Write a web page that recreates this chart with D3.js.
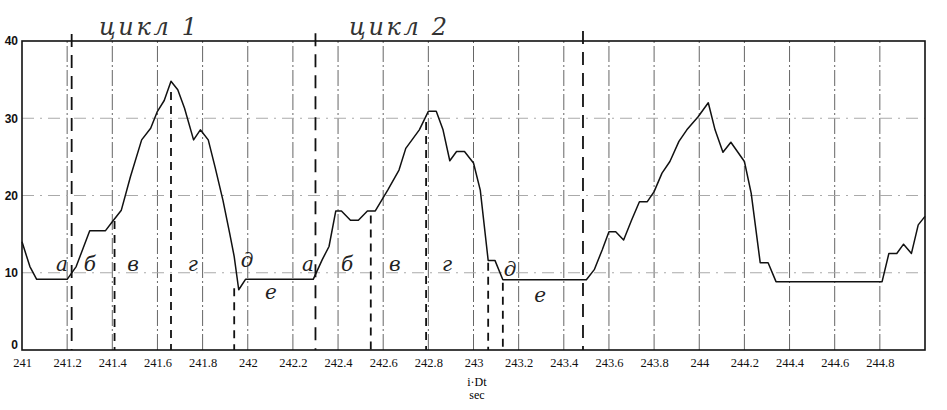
<!DOCTYPE html>
<html>
<head>
<meta charset="utf-8">
<script src="https://cdn.jsdelivr.net/npm/d3@7"></script>
<style>
  body { margin: 0; background: #fff; }
  svg { display: block; }
</style>
</head>
<body>
<div id="chart"></div>
<script>
// time (sec) and signal values
const times = [241.0, 241.035, 241.065, 241.2, 241.24, 241.30, 241.37, 241.40, 241.44, 241.48,
    241.53, 241.57, 241.60, 241.63, 241.66, 241.69, 241.72, 241.76, 241.79, 241.825,
    241.855, 241.89, 241.92, 241.94, 241.96, 241.99, 242.29, 242.33, 242.36, 242.39,
    242.415, 242.455, 242.49, 242.53, 242.565, 242.62, 242.67, 242.70, 242.76, 242.80,
    242.835, 242.865, 242.895, 242.925, 242.96, 243.0, 243.03, 243.065, 243.095, 243.13,
    243.50, 243.535, 243.57, 243.60, 243.63, 243.665, 243.70, 243.735, 243.77, 243.80,
    243.835, 243.87, 243.91, 243.945, 243.995, 244.04, 244.07, 244.105, 244.14, 244.20,
    244.23, 244.27, 244.305, 244.34, 244.81, 244.84, 244.875, 244.905, 244.94, 244.97,
    245.0];
const values = [14.0, 10.8, 9.15, 9.15, 10.8, 15.45, 15.45, 16.6, 18.1, 22.4,
    27.2, 28.7, 30.9, 32.3, 34.8, 33.7, 31.3, 27.2, 28.5, 27.2,
    23.7, 19.4, 15.1, 12.1, 7.8, 9.15, 9.15, 11.7, 13.4, 18.0,
    18.0, 16.8, 16.8, 18.0, 18.0, 20.7, 23.3, 26.1, 28.5, 30.9,
    30.9, 28.5, 24.5, 25.7, 25.7, 24.2, 20.7, 11.6, 11.6, 9.1,
    9.1, 10.4, 12.95, 15.3, 15.3, 14.25, 16.8, 19.2, 19.2, 20.5,
    22.9, 24.4, 27.0, 28.5, 30.2, 32.0, 28.5, 25.6, 26.9, 24.4,
    20.3, 11.3, 11.3, 8.85, 8.85, 12.5, 12.5, 13.7, 12.5, 16.2,
    17.3];

const xTicks = [241, 241.2, 241.4, 241.6, 241.8, 242, 242.2, 242.4, 242.6, 242.8,
    243, 243.2, 243.4, 243.6, 243.8, 244, 244.2, 244.4, 244.6, 244.8];
const yTicks = [0, 10, 20, 30, 40];

// hand-drawn markers: cycle boundaries and phase boundaries (time, top value)
const cycleTimes = [241.22, 242.30, 243.485];
const cycleTops = [40.9, 41.0, 41.3];
const phaseTimes = [241.41, 241.66, 241.94, 242.545, 242.79, 243.065, 243.13];
const phaseTops = [16.7, 33.4, 8.0, 17.4, 29.5, 11.3, 8.7];

const phaseLetters = ["а", "б", "в", "г", "д", "е", "а", "б", "в", "г", "д", "е"];
const letterTimes = [241.177, 241.301, 241.492, 241.757, 241.997, 242.103,
    242.267, 242.44, 242.652, 242.883, 243.162, 243.295];
const letterValues = [10.2, 10.2, 10.2, 10.2, 10.8, 6.6, 10.2, 10.2, 10.2, 10.2, 9.6, 6.2];

const cycleTitles = ["цикл 1", "цикл 2"];
const titleTimes = [241.558, 242.666];

const W = 947, H = 410;
const margin = { top: 41, right: 22, bottom: 60, left: 22 };

const svg = d3.select("#chart").append("svg").attr("width", W).attr("height", H);
const x = d3.scaleLinear().domain([241, 245]).range([margin.left, W - margin.right]);
const y = d3.scaleLinear().domain([0, 40]).range([H - margin.bottom, margin.top]);

// grid
svg.append("g").selectAll("line").data(xTicks.slice(1)).join("line")
    .attr("x1", d => x(d)).attr("x2", d => x(d)).attr("y1", y(0)).attr("y2", y(40))
    .attr("stroke", "#666").attr("stroke-width", 1).attr("stroke-dasharray", "16,3,2,3");
svg.append("g").selectAll("line").data(yTicks.slice(1, -1)).join("line")
    .attr("x1", x(241)).attr("x2", x(245)).attr("y1", d => y(d)).attr("y2", d => y(d))
    .attr("stroke", "#aaa").attr("stroke-width", 1).attr("stroke-dasharray", "12,6,2,6");

// frame
svg.append("rect").attr("x", x(241)).attr("y", y(40))
    .attr("width", x(245) - x(241)).attr("height", y(0) - y(40))
    .attr("fill", "none").attr("stroke", "#111").attr("stroke-width", 1.6);

// axes
const xAxis = svg.append("g").attr("transform", `translate(0,${y(0)})`)
    .call(d3.axisBottom(x).tickValues(xTicks).tickSize(0).tickPadding(8).tickFormat(d => String(d)));
xAxis.select(".domain").remove();
xAxis.selectAll("text").attr("font-family", "Liberation Serif").attr("font-size", 12.5).attr("fill", "#111");

const yAxis = svg.append("g").attr("transform", `translate(${x(241)},0)`)
    .call(d3.axisLeft(y).tickValues(yTicks).tickSize(0).tickPadding(4));
yAxis.select(".domain").remove();
yAxis.selectAll("text").attr("font-family", "Liberation Sans").attr("font-weight", "bold")
    .attr("font-size", 12).attr("fill", "#111");
yAxis.selectAll(".tick").filter(d => d === 0).select("text").attr("dy", "-0.1em");

svg.append("text").attr("x", x(243.015)).attr("y", 386).attr("text-anchor", "middle")
    .attr("font-family", "Liberation Serif").attr("font-size", 12).text("i·Dt");
svg.append("text").attr("x", x(243.015)).attr("y", 399).attr("text-anchor", "middle")
    .attr("font-family", "Liberation Serif").attr("font-size", 12).text("sec");

// the signal
const data = times.map((t, i) => ({ t, v: values[i] }));
svg.append("path").datum(data).attr("fill", "none").attr("stroke", "#111")
    .attr("stroke-width", 1.5).attr("stroke-linejoin", "round")
    .attr("d", d3.line().x(d => x(d.t)).y(d => y(d.v)));

// marker lines
svg.append("g").selectAll("line").data(cycleTimes).join("line")
    .attr("x1", d => x(d)).attr("x2", d => x(d))
    .attr("y1", (d, i) => y(cycleTops[i])).attr("y2", y(0))
    .attr("stroke", "#111").attr("stroke-width", 1.8).attr("stroke-dasharray", "13,8");
svg.append("g").selectAll("line").data(phaseTimes).join("line")
    .attr("x1", d => x(d)).attr("x2", d => x(d))
    .attr("y1", (d, i) => y(phaseTops[i])).attr("y2", y(0))
    .attr("stroke", "#111").attr("stroke-width", 1.8).attr("stroke-dasharray", "8,6");

// handwritten notes
svg.append("g").selectAll("text").data(phaseLetters).join("text")
    .attr("x", (d, i) => x(letterTimes[i])).attr("y", (d, i) => y(letterValues[i]))
    .attr("text-anchor", "middle").attr("font-family", "DejaVu Serif").attr("font-style", "italic")
    .attr("font-size", 20).attr("fill", "#222").text(d => d);

svg.append("g").selectAll("text").data(cycleTitles).join("text")
    .attr("x", (d, i) => x(titleTimes[i])).attr("y", y(40) - 6)
    .attr("text-anchor", "middle").attr("font-family", "DejaVu Serif").attr("font-style", "italic")
    .attr("font-size", 24).attr("fill", "#333")
    .attr("textLength", 98).attr("lengthAdjust", "spacing").text(d => d);
</script>
</body>
</html>
